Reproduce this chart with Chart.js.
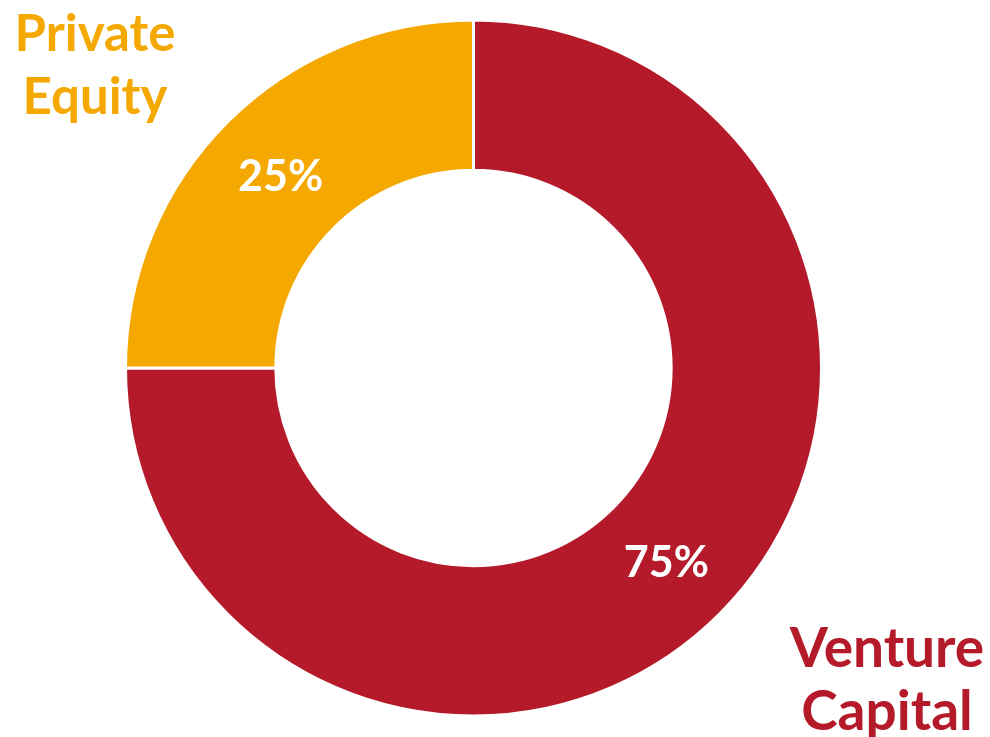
<!DOCTYPE html>
<html>
<head>
<meta charset="utf-8">
<script src="https://cdn.jsdelivr.net/npm/chart.js@4.4.1/dist/chart.umd.min.js"></script>
<style>
  html, body { margin: 0; padding: 0; background: #ffffff; }
  #wrap { width: 990px; height: 737px; }
</style>
</head>
<body>
<div id="wrap"><canvas id="fundChart" width="990" height="737"></canvas></div>
<script>
// fund split
const categories = ["Venture Capital", "Private Equity"];
const shares = [75, 25];
const sliceColors = ["#B41A29", "#F5A800"];

// big corner labels, one line per word
const cornerLabels = [
    {lines: ["Venture", "Capital"], x: 887, y: 667, size: 55},
    {lines: ["Private", "Equity"], x: 95, y: 51, size: 51},
];

const percentFont = "bold 43px Lato";


const sliceLabels = {
    id: "sliceLabels",
    afterDatasetsDraw(chart) {
        const ctx = chart.ctx;
        const meta = chart.getDatasetMeta(0);

        ctx.save();
        ctx.textAlign = "center";
        ctx.textBaseline = "middle";
        ctx.font = percentFont;
        ctx.fillStyle = "#ffffff";
        meta.data.forEach((arc, i) => {
            const pos = arc.tooltipPosition();
            ctx.fillText(shares[i] + "%", pos.x, pos.y + 2);
        });

        ctx.textBaseline = "alphabetic";
        cornerLabels.forEach((label, i) => {
            ctx.font = "bold " + label.size + "px Lato";
            ctx.fillStyle = sliceColors[i];
            label.lines.forEach((line, j) => {
                ctx.fillText(line, label.x, label.y + j * 63);
            });
        });
        ctx.restore();
    }
};


new Chart(document.getElementById("fundChart"), {
    type: "doughnut",
    data: {
        labels: categories,
        datasets: [{
            data: shares,
            backgroundColor: sliceColors,
            borderColor: "#ffffff",
            borderWidth: 3,
            hoverOffset: 0,
        }],
    },
    options: {
        responsive: false,
        animation: false,
        radius: 348,
        cutout: "56.8%",
        layout: {padding: {left: 0, right: 43, top: 0, bottom: 1}},
        plugins: {
            legend: {display: false},
            tooltip: {enabled: false},
        },
    },
    plugins: [sliceLabels],
});
</script>
</body>
</html>
